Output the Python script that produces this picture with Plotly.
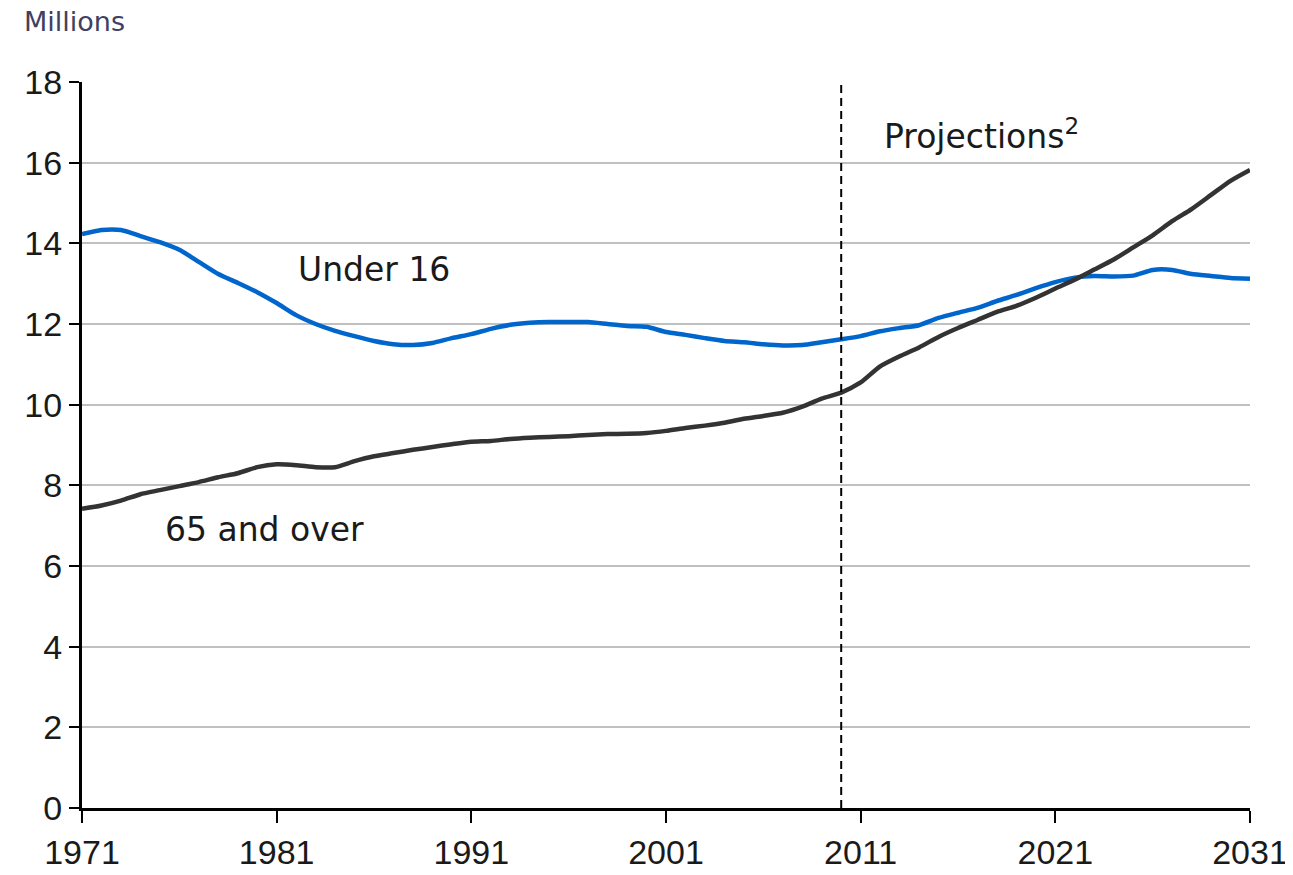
import plotly.graph_objects as go

years = list(range(1971, 2032))

# Under 16, millions
under_16 = [
    14.23, 14.33, 14.33, 14.18, 14.03, 13.84, 13.54, 13.24, 13.02, 12.79,
    12.52, 12.22, 12.00, 11.83, 11.70, 11.58, 11.50, 11.48, 11.53, 11.65,
    11.75, 11.88, 11.98, 12.03, 12.05, 12.05, 12.05, 12.00, 11.95, 11.93,
    11.80, 11.73, 11.65, 11.58, 11.55, 11.50, 11.47, 11.48, 11.55, 11.62,
    11.70, 11.82, 11.90, 11.97, 12.15, 12.28, 12.40, 12.57, 12.72, 12.89,
    13.04, 13.15, 13.19, 13.18, 13.20, 13.34, 13.34, 13.24, 13.19, 13.14,
    13.12,
]

# 65 and over, millions
over_65 = [
    7.42, 7.50, 7.62, 7.78, 7.88, 7.98, 8.08, 8.20, 8.30, 8.45,
    8.52, 8.50, 8.45, 8.45, 8.60, 8.72, 8.80, 8.88, 8.95, 9.02,
    9.08, 9.10, 9.15, 9.18, 9.20, 9.22, 9.25, 9.27, 9.28, 9.30,
    9.35, 9.42, 9.48, 9.55, 9.65, 9.72, 9.80, 9.95, 10.15, 10.30,
    10.55, 10.95, 11.20, 11.42, 11.68, 11.90, 12.10, 12.30, 12.45, 12.65,
    12.88, 13.10, 13.35, 13.60, 13.90, 14.20, 14.55, 14.85, 15.20, 15.55,
    15.82,
]

projection_start = 2010
x_ticks = [1971, 1981, 1991, 2001, 2011, 2021, 2031]
y_ticks = list(range(0, 19, 2))

tick_font = "Liberation Sans"
label_font = "DejaVu Sans"

fig = go.Figure()
fig.add_trace(go.Scatter(x=years, y=under_16, mode="lines", name="Under 16",
                         line=dict(color="#0066cc", width=4.5, shape="spline", smoothing=0.6)))
fig.add_trace(go.Scatter(x=years, y=over_65, mode="lines", name="65 and over",
                         line=dict(color="#333333", width=4.5, shape="spline", smoothing=0.6)))

# projections divider
fig.add_shape(type="line", x0=projection_start, x1=projection_start, y0=0, y1=18,
              xref="x", yref="y", line=dict(color="black", width=2, dash="8px,5px"))

fig.add_annotation(x=1986, y=13.35, text="Under 16", showarrow=False,
                   font=dict(family=label_font, size=33, color="#1a1a1a"))
fig.add_annotation(x=1980.4, y=6.9, text="65 and over", showarrow=False,
                   font=dict(family=label_font, size=33, color="#1a1a1a"))
fig.add_annotation(x=2012.1, y=16.7, text="Projections<sup>2</sup>", showarrow=False,
                   xanchor="left", font=dict(family=label_font, size=33, color="#1a1a1a"))
fig.add_annotation(x=-0.051, y=1.083, xref="paper", yref="paper", text="Millions",
                   showarrow=False, xanchor="left", yanchor="middle",
                   font=dict(family=label_font, size=27, color="#404060"))

# page body adds an 8px offset, so margins are trimmed to match
fig.update_layout(
    width=1293, height=875,
    margin=dict(l=74, r=51, t=74, b=75, autoexpand=False),
    paper_bgcolor="white", plot_bgcolor="white",
    showlegend=False,
    font=dict(family=tick_font, size=34, color="#1a1a1a"),
)
fig.update_xaxes(range=[1971, 2031], tickvals=x_ticks, showgrid=False,
                 showline=True, linecolor="black", linewidth=3,
                 ticks="outside", ticklen=12, tickwidth=2, tickcolor="black",
                 zeroline=False, automargin=False)
fig.update_yaxes(range=[0, 18], tickvals=y_ticks, showgrid=True,
                 gridcolor="#c0c0c0", gridwidth=2,
                 showline=True, linecolor="black", linewidth=3,
                 ticks="outside", ticklen=10, tickwidth=2, tickcolor="black",
                 zeroline=False, automargin=False)

fig.write_html("out.html")
